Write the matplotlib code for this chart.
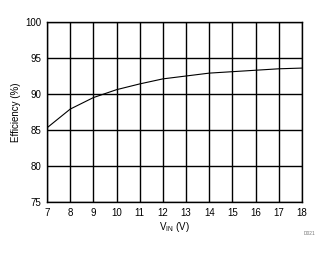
import matplotlib
matplotlib.use("Agg")
import matplotlib.pyplot as plt

plt.rcParams['font.family'] = ['Liberation Sans', 'DejaVu Sans']

vin = [7, 8, 9, 10, 11, 12, 13, 14, 15, 16, 17, 18]
efficiency = [85.3, 87.9, 89.5, 90.6, 91.4, 92.1, 92.5, 92.9, 93.1, 93.3, 93.5, 93.6]
xticks = list(range(7, 19))
yticks = [75, 80, 85, 90, 95, 100]

fig = plt.figure(figsize=(3.3, 2.54), dpi=100)
ax = fig.add_axes([0.1424, 0.2047, 0.7726, 0.7087])
ax.plot(vin, efficiency, color='black', lw=0.8)
ax.set_xlim(7, 18)
ax.set_ylim(75, 100)
ax.set_xticks(xticks)
ax.set_yticks(yticks)
ax.grid(True, color='black', lw=1.0)
for s in ax.spines.values():
    s.set_linewidth(1.0)
ax.tick_params(length=0, labelsize=7, pad=4)
ax.set_xlabel('V$_{\\mathregular{IN}}$ (V)', fontsize=7, labelpad=2)
ax.set_ylabel('Efficiency (%)', fontsize=7, labelpad=3)
fig.text(0.955, 0.073, 'D021', fontsize=3.5, color='#777777', ha='right')
fig.savefig('out.png', dpi=100)
